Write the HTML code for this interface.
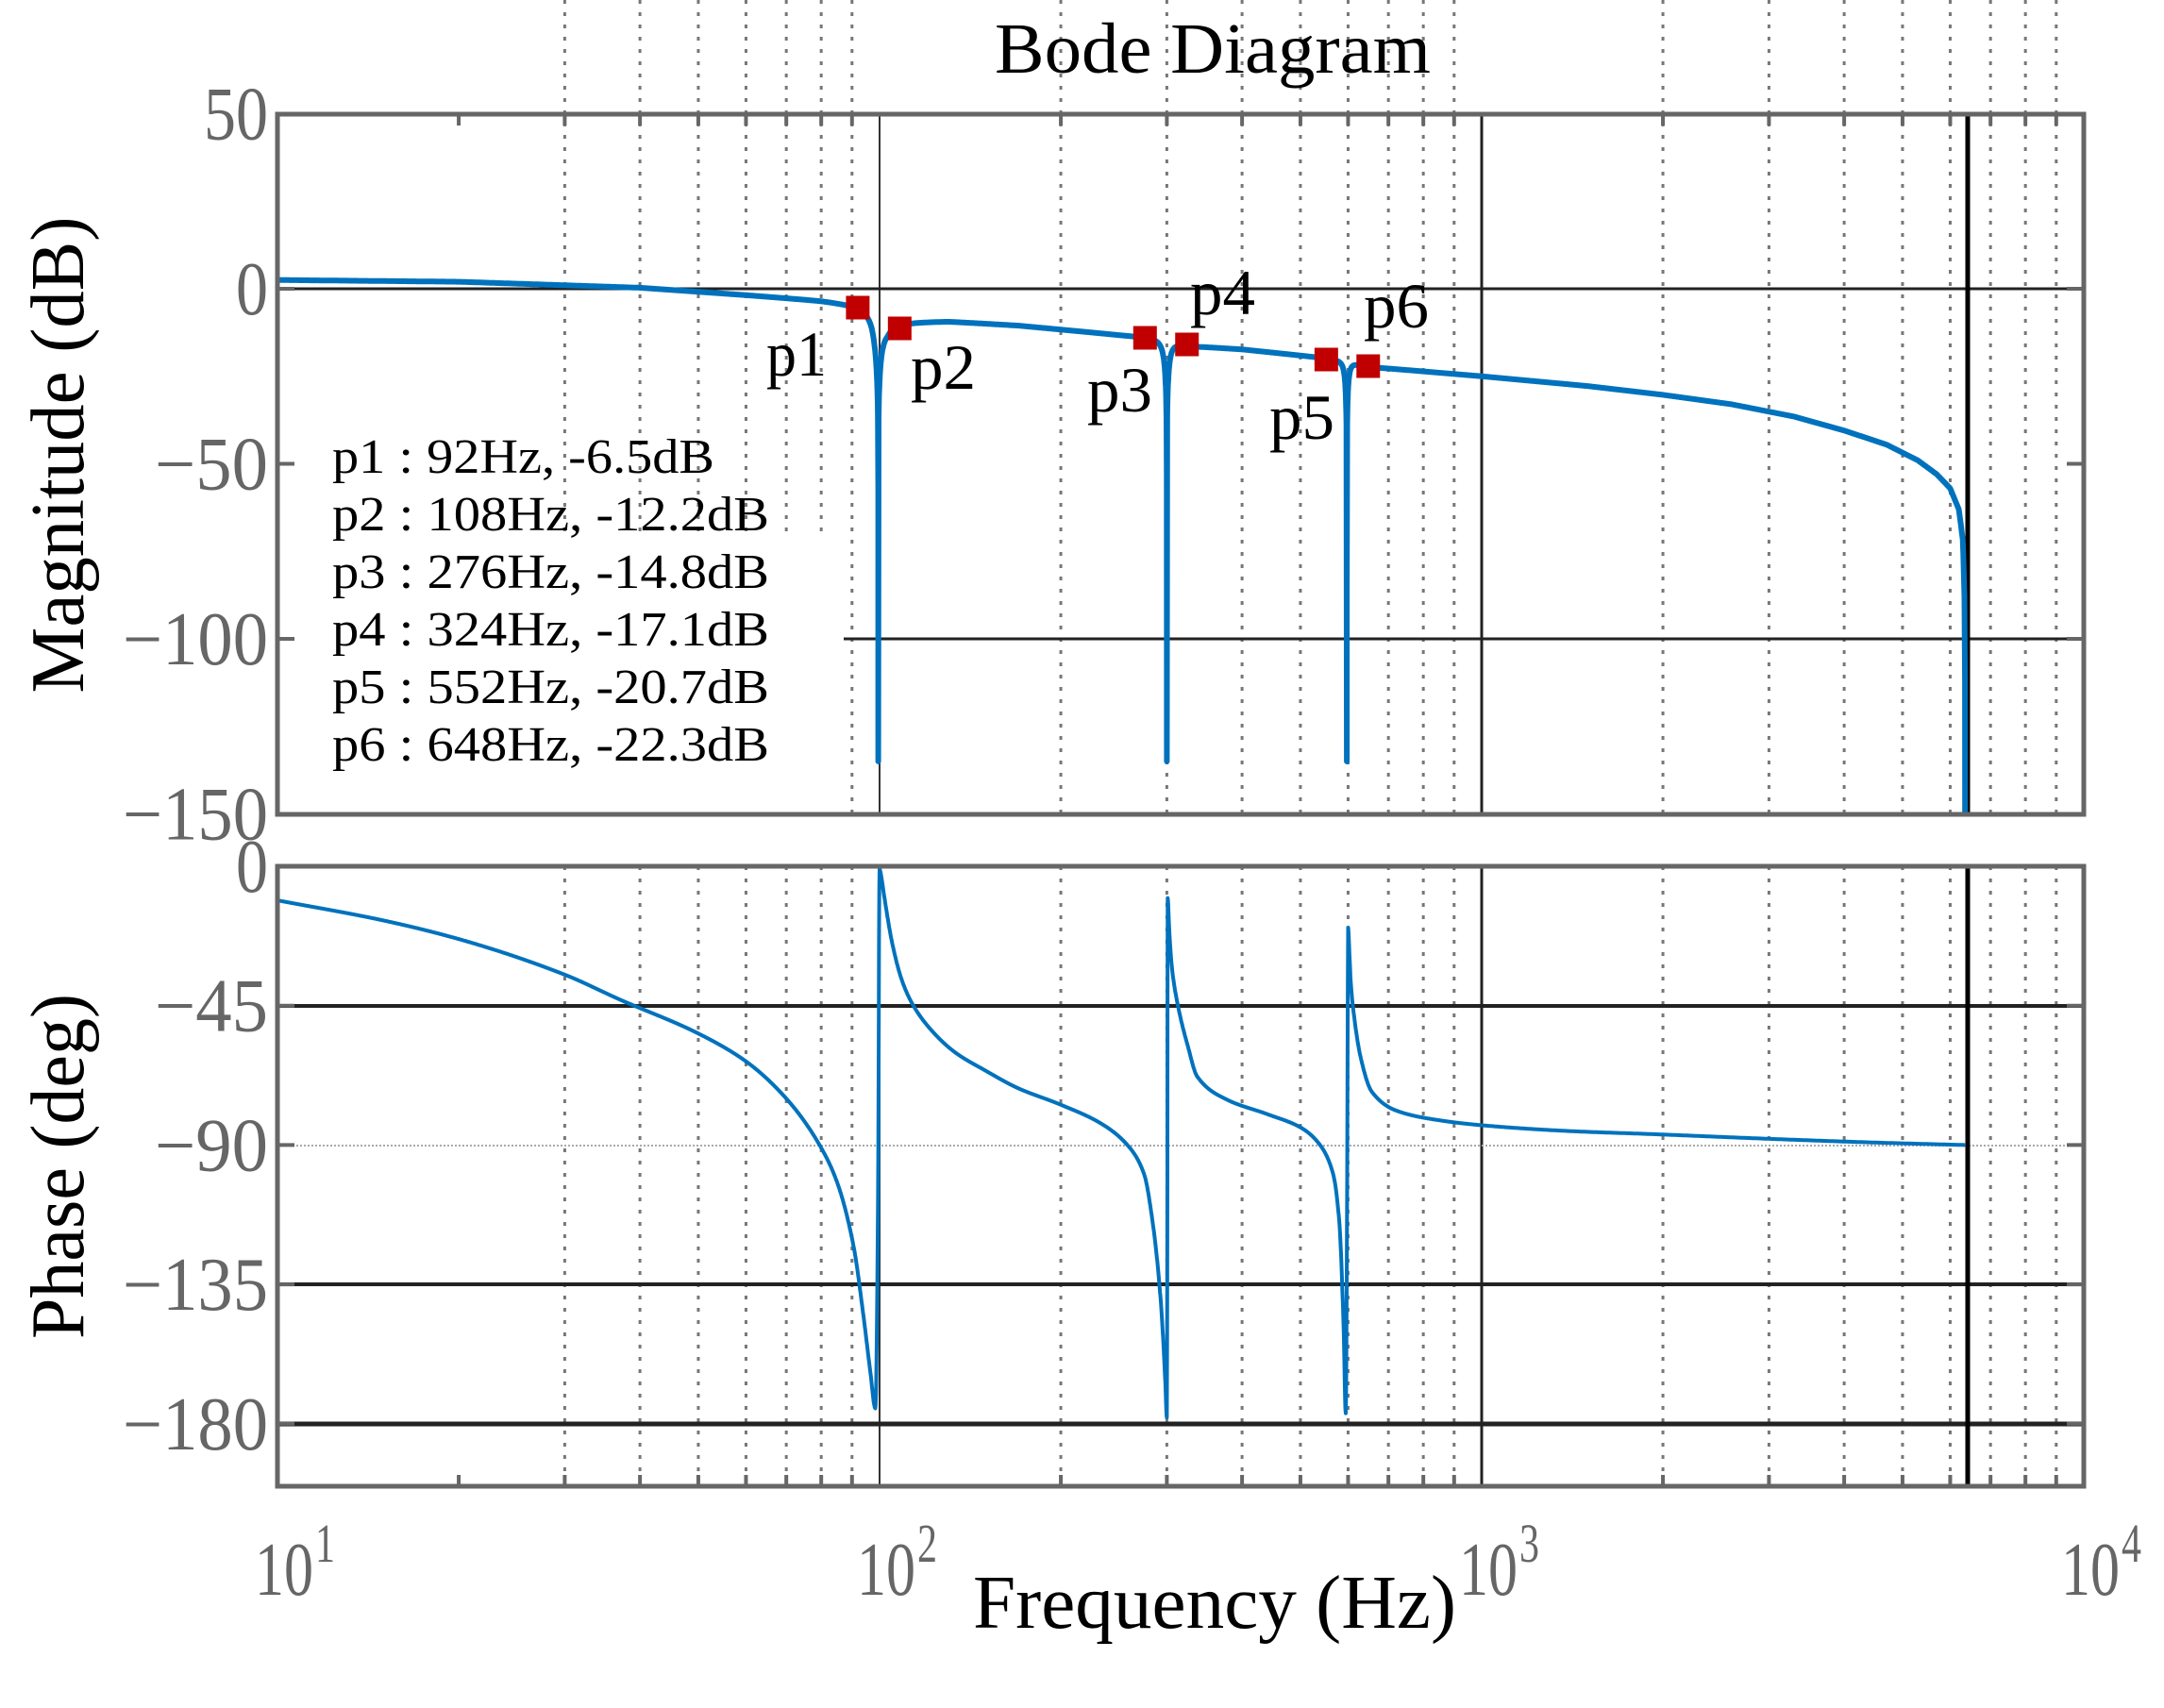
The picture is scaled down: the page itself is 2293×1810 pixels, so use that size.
<!DOCTYPE html>
<html><head><meta charset="utf-8"><style>
html,body{margin:0;padding:0;background:#fff;}
svg{display:block;}
text{font-family:"Liberation Serif","Times New Roman",serif;}
</style></head><body>
<svg id="s" width="2293" height="1810" viewBox="0 0 2293 1810" xmlns="http://www.w3.org/2000/svg">
<rect width="2293" height="1810" fill="#fff"/>
<g id="grid"></g>
<g id="curves"></g>
<g id="axes"></g>
<g id="labels" fill="#666" font-size="80"></g>
<text x="1285" y="77" font-size="76" text-anchor="middle" textLength="462" lengthAdjust="spacingAndGlyphs">Bode Diagram</text>
<text transform="translate(88,482) rotate(-90)" font-size="80" text-anchor="middle" textLength="505" lengthAdjust="spacingAndGlyphs">Magnitude (dB)</text>
<text transform="translate(88,1236) rotate(-90)" font-size="80" text-anchor="middle" textLength="366" lengthAdjust="spacingAndGlyphs">Phase (deg)</text>
<text x="1031" y="1725" font-size="80" textLength="512" lengthAdjust="spacingAndGlyphs">Frequency  (Hz)</text>
<g font-size="52" fill="#000">
<text x="352" y="501" textLength="405" lengthAdjust="spacingAndGlyphs">p1 : 92Hz, -6.5dB</text>
<text x="352" y="562" textLength="463" lengthAdjust="spacingAndGlyphs">p2 : 108Hz, -12.2dB</text>
<text x="352" y="623" textLength="463" lengthAdjust="spacingAndGlyphs">p3 : 276Hz, -14.8dB</text>
<text x="352" y="684" textLength="463" lengthAdjust="spacingAndGlyphs">p4 : 324Hz, -17.1dB</text>
<text x="352" y="745" textLength="463" lengthAdjust="spacingAndGlyphs">p5 : 552Hz, -20.7dB</text>
<text x="352" y="806" textLength="463" lengthAdjust="spacingAndGlyphs">p6 : 648Hz, -22.3dB</text>
</g>
<g font-size="68" fill="#000">
<text x="812" y="398" textLength="64" lengthAdjust="spacingAndGlyphs">p1</text>
<text x="965" y="412" textLength="69" lengthAdjust="spacingAndGlyphs">p2</text>
<text x="1152" y="436" textLength="69" lengthAdjust="spacingAndGlyphs">p3</text>
<text x="1261" y="333" textLength="69" lengthAdjust="spacingAndGlyphs">p4</text>
<text x="1345" y="465" textLength="69" lengthAdjust="spacingAndGlyphs">p5</text>
<text x="1445" y="347" textLength="69" lengthAdjust="spacingAndGlyphs">p6</text>
</g>
<g id="marks" fill="#c00000"></g>
</svg>
<script>
var NS="http://www.w3.org/2000/svg";
var L=294,R=2208,D=638,MT=121,MB=863,PT=918,PB=1575;
function X(f){return L+(Math.log10(f)-1)*D;}
function YM(db){return 306-db*3.71;}
function YP(d){return PT-d*147.7/45;}
function el(p,tag,a,txt){var e=document.createElementNS(NS,tag);for(var k in a)e.setAttribute(k,a[k]);if(txt!=null)e.textContent=txt;document.getElementById(p).appendChild(e);return e;}
function line(p,x1,y1,x2,y2,st,w,da){var a={x1:x1,y1:y1,x2:x2,y2:y2,stroke:st,"stroke-width":w};if(da)a["stroke-dasharray"]=da;el(p,"line",a);}
for(var dcd=1;dcd<=3;dcd++){for(var m=2;m<=9;m++){var f=m*Math.pow(10,dcd),x=X(f);
 if(!(dcd==1&&m==2)){
  var top=MT, bot=MB;
  if(x<894) bot=565;
  if(dcd==3&&(m==5||m==6)) {top=820;}
  line("grid",x,top,x,bot,"#777",3,"4 9");
  line("grid",x,PT,x,PB,"#777",3,"4 9");
 }
 line("axes",x,MT,x,MT+12,"#666",4);line("axes",x,PB-12,x,PB,"#666",4);
}}
line("grid",932,MT,932,MB,"#333",2);
line("grid",1570,MT,1570,MB,"#222",3);
line("grid",932,PT,932,PB,"#333",2);
line("grid",1570,PT,1570,PB,"#222",3);
line("grid",L,306,R,306,"#222",3);
line("grid",894,677,R,677,"#222",3);
line("grid",L,1066,R,1066,"#222",4);
line("grid",L,1361,R,1361,"#222",4);
line("grid",L,1509,R,1509,"#222",5);
line("grid",L,1214,R,1214,"#aaa",2,"2 2");
line("grid",2085,MT,2085,MB,"#000",5);
line("grid",2085,PT,2085,PB,"#000",5);
el("axes","rect",{x:L,y:MT,width:R-L,height:MB-MT,fill:"none",stroke:"#666","stroke-width":5});
el("axes","rect",{x:L,y:PT,width:R-L,height:PB-PT,fill:"none",stroke:"#666","stroke-width":5});
[50,0,-50,-100,-150].forEach(function(v){var y=YM(v);line("axes",L,y,L+18,y,"#666",4);line("axes",R-18,y,R,y,"#666",4);});
[0,-45,-90,-135,-180].forEach(function(v){var y=YP(v);line("axes",L,y,L+18,y,"#666",4);line("axes",R-18,y,R,y,"#666",4);});
function tlab(s,y){var n=s.replace("−","").length,neg=s.charAt(0)=="−";var w=n*34+(neg?52:0);
 el("labels","text",{x:284-w,y:y+27,textLength:w,lengthAdjust:"spacingAndGlyphs"},s);}
[["50",50],["0",0],["−50",-50],["−100",-100],["−150",-150]].forEach(function(a){tlab(a[0],YM(a[1]));});
[["0",0],["−45",-45],["−90",-90],["−135",-135],["−180",-180]].forEach(function(a){tlab(a[0],YP(a[1]));});
for(var k=1;k<=4;k++){var x=L+(k-1)*D;
 el("labels","text",{x:x-24,y:1690,textLength:62,lengthAdjust:"spacingAndGlyphs"},"10");
 el("labels","text",{x:x+40,y:1655,"font-size":58,textLength:21,lengthAdjust:"spacingAndGlyphs"},String(k));}
function interp(tab,f){var lf=Math.log10(f);
 if(f<=tab[0][0])return tab[0][1];
 for(var i=1;i<tab.length;i++){if(f<=tab[i][0]){var a=Math.log10(tab[i-1][0]),b=Math.log10(tab[i][0]);var t=(lf-a)/(b-a);return tab[i-1][1]+t*(tab[i][1]-tab[i-1][1]);}}
 return tab[tab.length-1][1];}
var base=[[10,2.5],[20,2.0],[40,0.3],[60,-1.8],[80,-3.4],[97,-5],[103,-9.5],[130,-9.3],[170,-10.5],[250,-13.2],[300,-14.3],[320,-16.2],[400,-17.3],[550,-19.8],[600,-20.5],[640,-22.2],[1000,-25],[1500,-27.8],[2000,-30.3],[2600,-33],[3300,-36.5],[4000,-40.5],[4700,-44.5],[5300,-49],[5700,-53],[6000,-57],[6200,-63],[6300,-72],[6340,-90],[6350,-115]];
var notches=[[99.5,0.045],[300,0.02],[597,0.012]];
function mag(f){var v=interp(base,f);notches.forEach(function(n){var f0=n[0],z=n[1];var a=Math.abs(f0*f0-f*f),b=2*z*f0*f;var r=a/Math.sqrt(a*a+b*b);v+=20*Math.log10(Math.max(r,1e-9));});return Math.max(v,-135);}
var fs=[];for(var i=0;i<=3000;i++){var f=Math.pow(10,1+i*2.8027/3000);fs.push(f);}
notches.forEach(function(n){for(var j=-40;j<=40;j++)fs.push(n[0]*(1+j*0.0015));});
fs.sort(function(a,b){return a-b;});
var d="";fs.forEach(function(f,i){if(f>6350)return;d+=(i?"L":"M")+X(f).toFixed(1)+","+YM(mag(f)).toFixed(1);});
d+="L"+X(6350).toFixed(1)+","+(MB-2);
el("curves","path",{d:d,fill:"none",stroke:"#0072bd","stroke-width":6,"stroke-linejoin":"round"});
var ph=[[10,-11],[15,-17.5],[20,-23.5],[30,-35],[37,-43],[50,-54],[60,-63],[70,-75],[79.5,-90],[85,-102],[90.6,-123],[94,-145],[96.5,-163],[98.4,-175],[99.4,-110],[100,-1],[100.8,-4],[101.8,-9.7],[105,-25],[109,-37],[113.8,-45],[122,-53],[133.3,-60],[150,-66],[169.6,-71.6],[200,-77],[233,-83],[258,-90],[275,-99.4],[284,-114.6],[293,-140],[298,-165],[300,-178],[300.6,-100],[301,-10.3],[303,-22],[306,-33],[313,-45],[325,-58],[337,-67.9],[378,-75.4],[440,-80],[500,-84.3],[534,-89],[566,-99],[580,-114.6],[590,-150],[594.6,-176.6],[598,-100],[600,-19.8],[603,-28],[606,-37],[611,-45],[630,-62],[657,-72.8],[724,-79],[850,-82],[998,-83.6],[1400,-85.5],[1930,-86.5],[3000,-88],[4500,-89.2],[6350,-90]];
function pchip(pts){var n=pts.length,xs=pts.map(function(p){return Math.log10(p[0]);}),ys=pts.map(function(p){return p[1];});
 var h=[],dl=[];for(var i=0;i<n-1;i++){h[i]=xs[i+1]-xs[i];dl[i]=(ys[i+1]-ys[i])/h[i];}
 var m=[dl[0]];for(var i=1;i<n-1;i++){if(dl[i-1]*dl[i]<=0)m[i]=0;else{var w1=2*h[i]+h[i-1],w2=h[i]+2*h[i-1];m[i]=(w1+w2)/(w1/dl[i-1]+w2/dl[i]);}}m[n-1]=dl[n-2];
 var out="";for(var i=0;i<n-1;i++){var N=Math.max(2,Math.ceil(h[i]*2000));for(var k=(i?1:0);k<=N;k++){var t=k/N,t2=t*t,t3=t2*t;
  var y=(2*t3-3*t2+1)*ys[i]+(t3-2*t2+t)*h[i]*m[i]+(-2*t3+3*t2)*ys[i+1]+(t3-t2)*h[i]*m[i+1];var xx=xs[i]+t*h[i];
  out+=(out?"L":"M")+(L+(xx-1)*D).toFixed(1)+","+YP(y).toFixed(1);}}return out;}
el("curves","path",{d:pchip(ph),fill:"none",stroke:"#0072bd","stroke-width":4,"stroke-linejoin":"round"});
[[92,326],[108,348],[276,358],[324,365],[552,381],[648,388]].forEach(function(p){var x=X(p[0]);el("marks","rect",{x:x-12.5,y:p[1]-12.5,width:25,height:25});});
</script>
</body></html>
